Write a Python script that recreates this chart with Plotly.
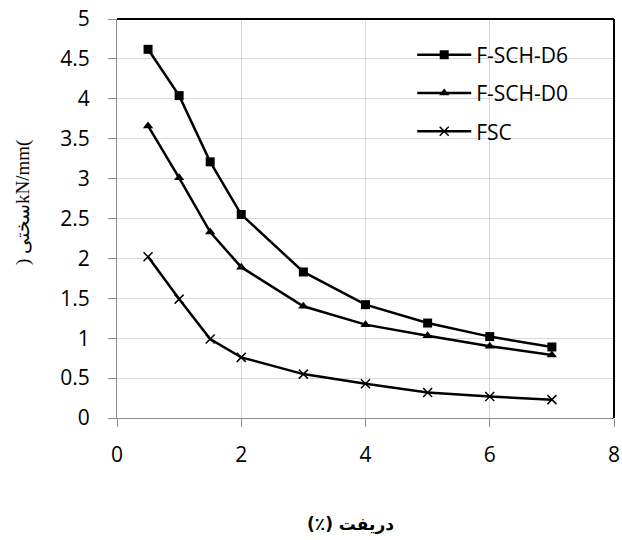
import plotly.graph_objects as go

# Drift levels (%) and stiffness (kN/mm) for each specimen
drift = [0.5, 1, 1.5, 2, 3, 4, 5, 6, 7]
stiff_d6 = [4.62, 4.04, 3.21, 2.55, 1.83, 1.42, 1.19, 1.02, 0.89]
stiff_d0 = [3.66, 3.01, 2.33, 1.89, 1.40, 1.17, 1.03, 0.90, 0.79]
stiff_fsc = [2.02, 1.49, 0.99, 0.76, 0.55, 0.43, 0.32, 0.27, 0.23]

series_names = ["F-SCH-D6", "F-SCH-D0", "FSC"]
x_ticks = [0, 2, 4, 6, 8]
y_ticks = [0, 0.5, 1, 1.5, 2, 2.5, 3, 3.5, 4, 4.5, 5]
y_tick_text = ["0", "0.5", "1", "1.5", "2", "2.5", "3", "3.5", "4", "4.5", "5"]

x_title = "(٪) دریفت"
y_title = ") سختیkN/mm("

tick_font = dict(family="Open Sans", size=21, color="#000000")

fig = go.Figure()

styles = [
    dict(symbol="square", size=9, line=dict(width=0)),
    dict(symbol="triangle-up", size=9, line=dict(width=0)),
    dict(symbol="x-thin", size=9, line=dict(width=1.5, color="#000000")),
]

for i, (name, ys, mk) in enumerate(zip(series_names, [stiff_d6, stiff_d0, stiff_fsc], styles)):
    fig.add_trace(go.Scatter(
        x=drift, y=ys, name=name, mode="lines+markers",
        line=dict(color="#000000", width=2.5),
        marker=dict(color="#000000", **mk),
        legendgroup=f"g{i}",
    ))

fig.update_layout(
    width=622, height=540,
    margin=dict(l=117, r=8, t=19, b=122, autoexpand=False),
    paper_bgcolor="#ffffff", plot_bgcolor="#ffffff",
    font=dict(family="Open Sans", size=21, color="#000000"),
    legend=dict(
        x=0.594, y=0.961, xanchor="left", yanchor="top",
        bgcolor="rgba(0,0,0,0)", borderwidth=0,
        font=dict(family="Open Sans", size=21, color="#000000"),
        tracegroupgap=8, itemwidth=54,
    ),
    showlegend=True,
)

fig.update_xaxes(
    range=[0, 8], tickmode="array", tickvals=x_ticks,
    showgrid=True, gridcolor="#d9d9d9", gridwidth=1,
    showline=True, linecolor="#8c8c8c", linewidth=1,
    ticks="outside", ticklen=8, tickcolor="#8c8c8c",
    tickfont=tick_font, ticklabelstandoff=10, zeroline=False,
    automargin=False,
)
fig.update_yaxes(
    range=[0, 5], tickmode="array", tickvals=y_ticks, ticktext=y_tick_text,
    showgrid=True, gridcolor="#d9d9d9", gridwidth=1,
    showline=True, linecolor="#8c8c8c", linewidth=1,
    ticks="outside", ticklen=8, tickcolor="#8c8c8c",
    tickfont=tick_font, ticklabelstandoff=14, zeroline=False,
    automargin=False,
)

# Plot-area border on the top and right edges
fig.add_shape(type="line", xref="paper", yref="paper", x0=0, x1=1, y0=1, y1=1,
              line=dict(color="#000000", width=2), layer="above")
fig.add_shape(type="line", xref="paper", yref="paper", x0=1, x1=1, y0=0, y1=1,
              line=dict(color="#000000", width=2), layer="above")

# Axis titles
fig.add_annotation(text=f"<b>{x_title}</b>", xref="paper", yref="paper",
                   x=0.47, y=-0.265, xanchor="center", yanchor="middle", showarrow=False,
                   font=dict(family="DejaVu Sans", size=17, color="#000000"))
fig.add_annotation(text=y_title, xref="paper", yref="paper",
                   x=-0.19, y=0.54, xanchor="center", yanchor="middle", showarrow=False,
                   textangle=-90,
                   font=dict(family="Liberation Serif", size=19, color="#000000"))

fig.write_html("out.html")
